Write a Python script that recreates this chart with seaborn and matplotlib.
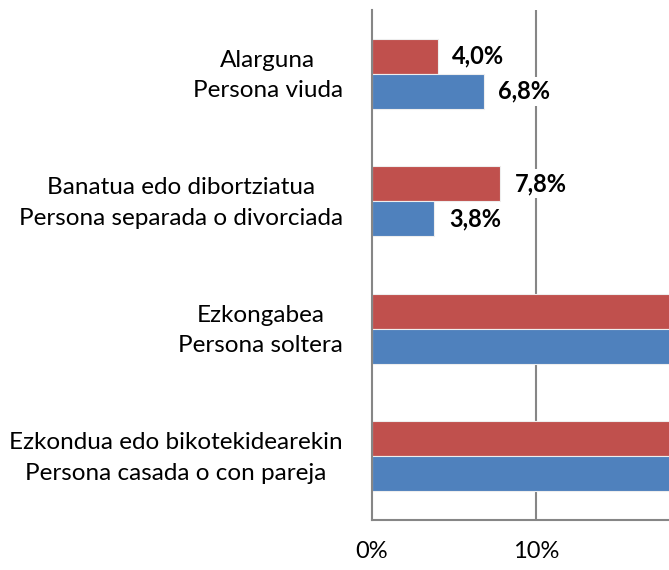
import matplotlib
matplotlib.use("Agg")
import matplotlib.pyplot as plt
import matplotlib.transforms as mtransforms
import seaborn as sns
import pandas as pd

categories = [
    "Alarguna\nPersona viuda",
    "Banatua edo dibortziatua\nPersona separada o divorciada",
    "Ezkongabea\nPersona soltera",
    "Ezkondua edo bikotekidearekin\nPersona casada o con pareja",
]
series_names = ["Emakumeak / Mujeres", "Gizonak / Hombres"]
red_values = [4.0, 7.8, 30.5, 57.7]
blue_values = [6.8, 3.8, 32.0, 57.4]
xtick_values = [0, 10, 20]
xtick_labels = ["0%", "10%", "20%"]
colors = ["#C0504D", "#4F81BD"]

rows = []
for c, v in zip(categories, red_values):
    rows.append({"cat": c, "serie": series_names[0], "val": v})
for c, v in zip(categories, blue_values):
    rows.append({"cat": c, "serie": series_names[1], "val": v})
df = pd.DataFrame(rows)

sns.set_style("white")
plt.rcParams["font.family"] = ["Lato", "DejaVu Sans"]
plt.rcParams["text.color"] = "black"
plt.rcParams["xtick.labelcolor"] = "black"
plt.rcParams["ytick.labelcolor"] = "black"

fig = plt.figure(figsize=(6.69, 5.70), dpi=100)
ax = fig.add_axes([0.556, 0.0877, 0.444, 0.8947])

sns.barplot(data=df, y="cat", x="val", hue="serie", order=categories,
            hue_order=series_names, palette=colors, orient="h",
            width=0.55, saturation=1, edgecolor="#eeeeee", linewidth=0.8,
            ax=ax, legend=False, zorder=2)

ax.set_xticks(xtick_values)
ax.set_xticklabels(xtick_labels, fontsize=17, color="black")
XMAX = 18.1
ax.set_xlim(0, XMAX)
ax.set_ylim(3.5, -0.5)
ax.set_xlabel("")
ax.set_ylabel("")

ax.set_yticks(range(len(categories)))
ax.set_yticklabels(categories, fontsize=17.5, multialignment="center",
                   ha="right", linespacing=1.55, color="black")
ax.tick_params(axis="y", which="major", length=0, pad=21)
ax.set_yticks([i - 0.5 for i in range(len(categories) + 1)], minor=True)
ax.tick_params(axis="y", which="minor", length=7, width=1.5,
               color="#868686", direction="out")
ax.tick_params(axis="x", which="major", length=7, width=1.5,
               color="#868686", direction="out", pad=8)

shift = mtransforms.ScaledTranslation(0, 5 / 100, fig.dpi_scale_trans)
for lbl in ax.get_yticklabels():
    lbl.set_transform(lbl.get_transform() + shift)

ax.grid(False)
for x in xtick_values[1:]:
    ax.axvline(x, color="#868686", linewidth=1.5, zorder=0)

for s in ["top", "right"]:
    ax.spines[s].set_visible(False)
for s in ["left", "bottom"]:
    ax.spines[s].set_color("#868686")
    ax.spines[s].set_linewidth(1.5)

for cont in ax.containers:
    for bar in cont:
        w = bar.get_width()
        if w + 4 > XMAX:
            continue
        y = bar.get_y() + bar.get_height() / 2
        ax.text(w + 0.9, y, f"{w:.1f}%".replace(".", ","), va="center",
                ha="left", fontsize=17, fontweight="bold", zorder=3,
                color="black",
                bbox=dict(facecolor="white", edgecolor="none", pad=2))

fig.savefig("out.png", dpi=100)
